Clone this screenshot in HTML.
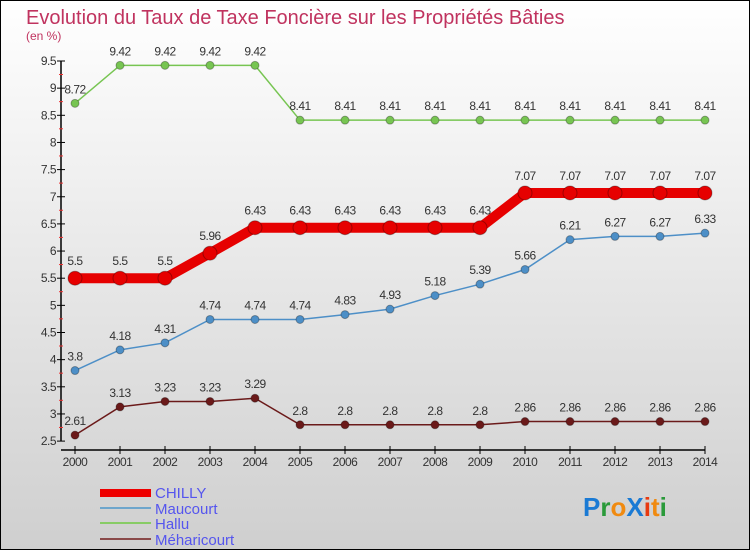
<!DOCTYPE html>
<html><head><meta charset="utf-8"><style>
html,body{margin:0;padding:0}
body{width:750px;height:550px;overflow:hidden;font-family:"Liberation Sans",sans-serif}
</style></head><body>
<svg width="750" height="550" xmlns="http://www.w3.org/2000/svg">
<defs><linearGradient id="bg" x1="0" y1="0" x2="0" y2="1"><stop offset="0" stop-color="#ffffff"/><stop offset="1" stop-color="#cfcfcf"/></linearGradient></defs>
<rect x="0.5" y="0.5" width="749" height="549" fill="url(#bg)" stroke="#000"/>
<text x="26" y="24" font-size="20" fill="#c0335f">Evolution du Taux de Taxe Foncière sur les Propriétés Bâties</text>
<text x="26" y="40" font-size="12" fill="#c0335f">(en %)</text>
<g id="axes"></g><g id="series"></g>
<g>
<rect x="100" y="489" width="51" height="8" fill="#e00"/>
<text x="155" y="498" font-size="15" fill="#5555ee">CHILLY</text>
<rect x="100" y="507" width="51" height="2" fill="#6ea6cc"/>
<text x="155" y="514" font-size="15" fill="#5555ee">Maucourt</text>
<rect x="100" y="522" width="51" height="2" fill="#88cc66"/>
<text x="155" y="529" font-size="15" fill="#5555ee">Hallu</text>
<rect x="100" y="538" width="51" height="2" fill="#8a4a4a"/>
<text x="155" y="545" font-size="15" fill="#5555ee">Méharicourt</text>
</g>
<g font-size="26" font-weight="bold">
<text x="583" y="516"><tspan fill="#1a7ad4">P</tspan><tspan fill="#2a9a3a">r</tspan><tspan fill="#f08a10">o</tspan><tspan fill="#1a7ad4">X</tspan><tspan fill="#e83a10">i</tspan><tspan fill="#f08a10">t</tspan><tspan fill="#2a9a3a">i</tspan></text>
</g>
</svg>
<script>
const years=[2000,2001,2002,2003,2004,2005,2006,2007,2008,2009,2010,2011,2012,2013,2014];
const yTicks=[2.5,3,3.5,4,4.5,5,5.5,6,6.5,7,7.5,8,8.5,9,9.5];
const chilly=[5.5,5.5,5.5,5.96,6.43,6.43,6.43,6.43,6.43,6.43,7.07,7.07,7.07,7.07,7.07];
const maucourt=[3.8,4.18,4.31,4.74,4.74,4.74,4.83,4.93,5.18,5.39,5.66,6.21,6.27,6.27,6.33];
const hallu=[8.72,9.42,9.42,9.42,9.42,8.41,8.41,8.41,8.41,8.41,8.41,8.41,8.41,8.41,8.41];
const meharicourt=[2.61,3.13,3.23,3.23,3.29,2.8,2.8,2.8,2.8,2.8,2.86,2.86,2.86,2.86,2.86];
const NS="http://www.w3.org/2000/svg";
const xs=i=>75+i*45;
const ys=v=>61+(9.5-v)*54.3;
function mk(t,a,p){const e=document.createElementNS(NS,t);for(const k in a)e.setAttribute(k,a[k]);p.appendChild(e);return e;}
const ax=document.getElementById('axes');
const yl=mk('line',{x1:61,y1:ys(9.5),x2:61,y2:ys(2.5),stroke:'#000','stroke-width':1.5},ax);


const xl=mk('line',{x1:61,y1:450,x2:xs(14),y2:450,stroke:'#000','stroke-width':1.5},ax);


yTicks.forEach(v=>{
 const y=ys(v);
 mk('line',{x1:57,y1:y,x2:65,y2:y,stroke:'#000'},ax);
 if(v>2.5) mk('line',{x1:59,y1:y+13.5,x2:63,y2:y+13.5,stroke:'#e33'},ax);
 const t=mk('text',{x:56,y:y+4,'font-size':12,'text-anchor':'end',fill:'#333','letter-spacing':'-0.5'},ax);
 t.textContent=String(v);
 
 
});
years.forEach((yr,i)=>{
 mk('line',{x1:xs(i),y1:446,x2:xs(i),y2:454,stroke:'#000'},ax);
 const t=mk('text',{x:xs(i),y:466,'font-size':12,'text-anchor':'middle',fill:'#333','letter-spacing':'-0.5'},ax);
 t.textContent=String(yr);
 
 
});
const sg=document.getElementById('series');
function draw(data,name,color,w,r){
 const g=mk('g',{},sg);
 
 
 const pl=mk('polyline',{points:data.map((v,i)=>xs(i)+','+ys(v)).join(' '),fill:'none',stroke:color,'stroke-width':w},g);
 
 
 data.forEach((v,i)=>{
  const c=mk('circle',{cx:xs(i),cy:ys(v),r:r,fill:color,stroke:'rgba(0,0,0,0.3)'},g);
  
  
  const t=mk('text',{x:xs(i),y:ys(v)-10-(r>5?3:0),'font-size':12,'text-anchor':'middle',fill:'#333','letter-spacing':'-0.5'},g);
  t.textContent=String(v);
  
  
 });
}
draw(hallu,'hallu','#77c552',1.5,4);
draw(maucourt,'maucourt','#4d8fc7',1.5,4);
draw(meharicourt,'meharicourt','#6b1a1a',1.5,4);
draw(chilly,'chilly','#e60000',10,7);
</script>
</body></html>
